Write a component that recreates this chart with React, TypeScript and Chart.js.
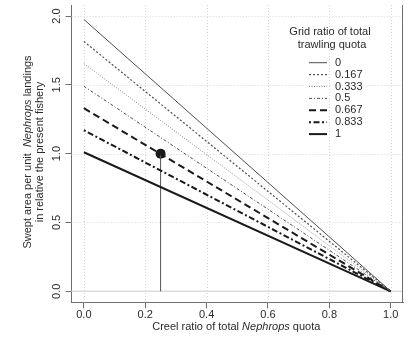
import React, { useEffect, useRef } from "react";
import { Chart, registerables } from "chart.js";

Chart.register(...registerables);

// ---- data ----
const gridRatioLabels = ["0", "0.167", "0.333", "0.5", "0.667", "0.833", "1"];
const swept_atCreel0 = [1.975, 1.815, 1.655, 1.49, 1.33, 1.17, 1.01];
const swept_atCreel1 = [0, 0, 0, 0, 0, 0, 0];
const creelEnds = [0, 1];
const markerCreel = [0.25];
const markerSwept = [1.0];
const xTickValues = [0, 0.2, 0.4, 0.6, 0.8, 1.0];
const yTickValues = [0, 0.5, 1.0, 1.5, 2.0];

// ---- styles ----
const lineColors = ["#4d4d4d", "#4d4d4d", "#8a8a8a", "#4d4d4d", "#1a1a1a", "#1a1a1a", "#1a1a1a"];
const lineWidths = [1, 1.2, 1, 1, 2, 2, 2];
const lineDashes: number[][] = [[], [2, 2], [1, 1.5], [3, 2, 1, 2], [7, 4], [2, 2.5, 6, 2.5], []];

const FONT = "'Liberation Sans', Arial, Helvetica, sans-serif";
const AXIS_GRAY = "#6e6e6e";
const TEXT = "#2b2b2b";

const decorPlugin = {
  id: "decor",
  beforeDatasetsDraw(chart: any) {
    const { ctx, chartArea: a, scales } = chart;
    const xs = scales.x, ys = scales.y;
    ctx.save();
    // dotted grid
    ctx.strokeStyle = "#d6d6d6";
    ctx.lineWidth = 1;
    ctx.setLineDash([1, 2]);
    xTickValues.forEach((v) => {
      const px = Math.round(xs.getPixelForValue(v)) + 0.5;
      ctx.beginPath(); ctx.moveTo(px, a.top); ctx.lineTo(px, a.bottom); ctx.stroke();
    });
    yTickValues.forEach((v) => {
      const py = Math.round(ys.getPixelForValue(v)) + 0.5;
      ctx.beginPath(); ctx.moveTo(a.left, py); ctx.lineTo(a.right, py); ctx.stroke();
    });
    // reference line at 0
    ctx.setLineDash([]);
    ctx.strokeStyle = "#dcdcdc";
    ctx.lineWidth = 1.6;
    const y0 = ys.getPixelForValue(0);
    ctx.beginPath(); ctx.moveTo(a.left, y0); ctx.lineTo(a.right, y0); ctx.stroke();
    ctx.restore();
  },
  afterDraw(chart: any) {
    const { ctx, chartArea: a } = chart;
    ctx.save();
    // right box side
    ctx.strokeStyle = AXIS_GRAY;
    ctx.lineWidth = 1;
    ctx.beginPath(); ctx.moveTo(a.right - 0.5, a.top); ctx.lineTo(a.right - 0.5, a.bottom); ctx.stroke();

    ctx.fillStyle = TEXT;
    const normal = `11px ${FONT}`;
    const italic = `italic 11px ${FONT}`;
    const drawMixed = (parts: [string, string][], cx: number, baseline: number) => {
      let total = 0;
      parts.forEach(([t, f]) => { ctx.font = f; total += ctx.measureText(t).width; });
      let x = cx - total / 2;
      ctx.textAlign = "left";
      ctx.textBaseline = "alphabetic";
      parts.forEach(([t, f]) => { ctx.font = f; ctx.fillText(t, x, baseline); x += ctx.measureText(t).width; });
    };
    // x title
    drawMixed([["Creel ratio of total ", normal], ["Nephrops", italic], [" quota", normal]], (a.left + a.right) / 2 - 1, 330);
    // y title
    ctx.save();
    ctx.translate(30.5, 152);
    ctx.rotate(-Math.PI / 2);
    drawMixed([["Swept area per unit  ", normal], ["Nephrops", italic], [" landings", normal]], 0, 0);
    ctx.restore();
    ctx.save();
    ctx.translate(43, 152);
    ctx.rotate(-Math.PI / 2);
    drawMixed([["in relative the present fishery", normal]], 0, 0);
    ctx.restore();

    // legend
    ctx.font = normal;
    ctx.textAlign = "center";
    ctx.textBaseline = "alphabetic";
    ctx.fillText("Grid ratio of total", 330, 34.5);
    ctx.fillText("trawling quota", 332, 48);
    gridRatioLabels.forEach((lab, i) => {
      const y = 62.7 + 11.9 * i;
      ctx.strokeStyle = lineColors[i];
      ctx.lineWidth = lineWidths[i];
      ctx.setLineDash(lineDashes[i]);
      ctx.beginPath(); ctx.moveTo(309, y); ctx.lineTo(327, y); ctx.stroke();
      ctx.setLineDash([]);
      ctx.fillStyle = TEXT;
      ctx.textAlign = "left";
      ctx.textBaseline = "middle";
      ctx.fillText(lab, 335, y);
    });
    ctx.restore();
  },
};

export default function App() {
  const ref = useRef<HTMLCanvasElement | null>(null);
  useEffect(() => {
    if (!ref.current) return;
    const datasets: any[] = gridRatioLabels.map((lab, i) => ({
      label: lab,
      data: creelEnds.map((x, j) => ({ x, y: j === 0 ? swept_atCreel0[i] : swept_atCreel1[i] })),
      showLine: true,
      borderColor: lineColors[i],
      borderWidth: lineWidths[i],
      borderDash: lineDashes[i],
      pointRadius: 0,
      tension: 0,
    }));
    datasets.push({
      label: "marker line",
      data: [{ x: markerCreel[0], y: 0 }, { x: markerCreel[0], y: markerSwept[0] }],
      showLine: true,
      borderColor: "#555555",
      borderWidth: 1,
      pointRadius: 0,
    });
    datasets.push({
      label: "marker",
      data: markerCreel.map((x, i) => ({ x, y: markerSwept[i] })),
      showLine: false,
      pointRadius: 5,
      backgroundColor: "#1a1a1a",
      borderColor: "#1a1a1a",
      borderWidth: 0,
    });

    const tickFont = { family: FONT, size: 11 };
    const chart = new Chart(ref.current, {
      type: "scatter",
      data: { datasets },
      plugins: [decorPlugin],
      options: {
        responsive: false,
        animation: false,
        events: [],
        layout: { padding: { top: -2.3, right: 3, bottom: 0, left: 0 } },
        plugins: { legend: { display: false }, tooltip: { enabled: false } },
        scales: {
          x: {
            type: "linear",
            min: -0.04,
            max: 1.04,
            afterBuildTicks: (s: any) => { s.ticks = xTickValues.map((v) => ({ value: v })); },
            afterFit: (s: any) => { s.height = 42.7; s.paddingLeft = 0; s.paddingRight = 0; },
            ticks: {
              callback: (v: any) => Number(v).toFixed(1),
              font: tickFont,
              color: TEXT,
              padding: 0,
              maxRotation: 0,
              minRotation: 0,
            },
            grid: { drawOnChartArea: false, drawTicks: true, tickLength: 6, color: AXIS_GRAY },
            border: { display: true, color: AXIS_GRAY, width: 1 },
          },
          y: {
            type: "linear",
            min: -0.08,
            max: 2.08,
            afterBuildTicks: (s: any) => { s.ticks = yTickValues.map((v) => ({ value: v })); },
            afterFit: (s: any) => { s.width = 71.6; s.paddingTop = 0; s.paddingBottom = 0; },
            ticks: {
              callback: (v: any) => Number(v).toFixed(1),
              font: tickFont,
              color: TEXT,
              padding: 1,
              minRotation: 90,
              maxRotation: 90,
              crossAlign: "center",
            },
            grid: { drawOnChartArea: false, drawTicks: true, tickLength: 6, color: AXIS_GRAY },
            border: { display: true, color: AXIS_GRAY, width: 1 },
          },
        },
      } as any,
    });
    return () => chart.destroy();
  }, []);
  return (
    <div style={{ position: "absolute", left: 0, top: 0, width: 408, height: 345 }}>
      <canvas ref={ref} width={408} height={345} style={{ width: 408, height: 345 }} />
    </div>
  );
}
